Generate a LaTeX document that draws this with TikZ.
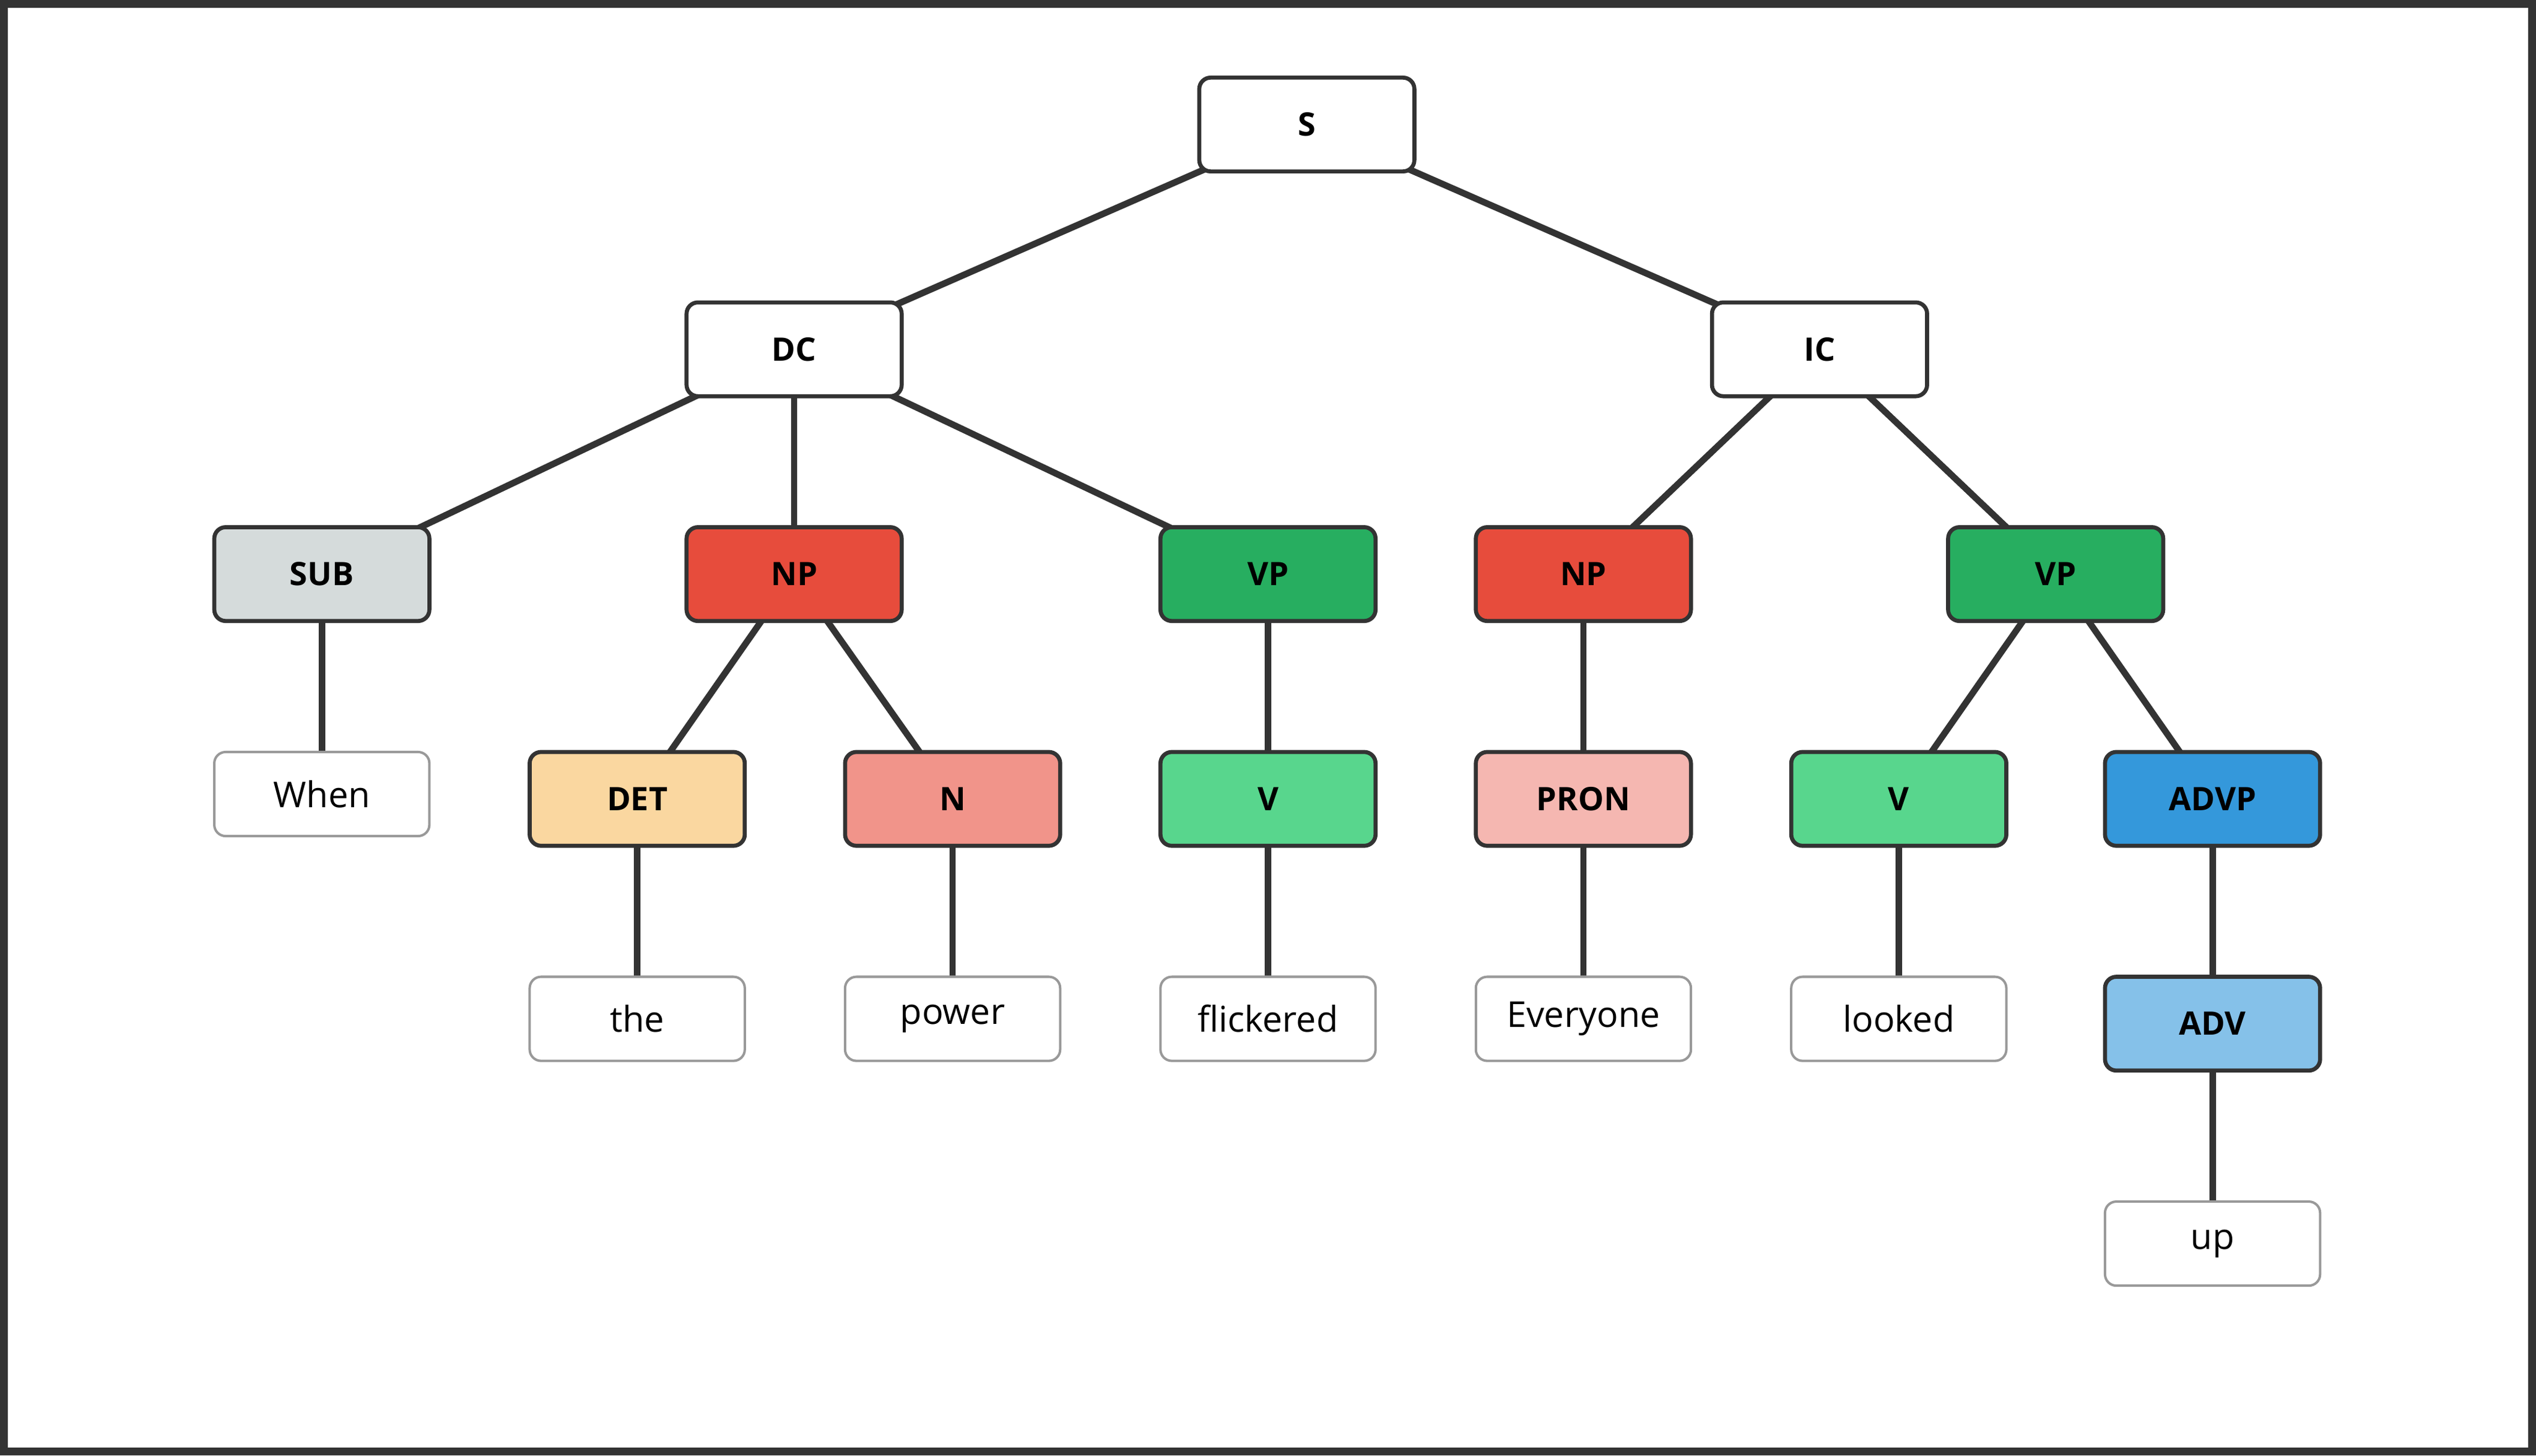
\documentclass[tikz,border=0pt]{standalone}
\usepackage{fontspec}
\setmainfont{Open Sans}
\begin{document}
\begin{tikzpicture}[x=1pt,y=-1pt,
 cat/.style={draw=black!80,line width=2.5pt,rounded corners=7pt,minimum width=133pt,minimum height=58pt,font=\fontsize{20}{24}\selectfont\bfseries,inner sep=0pt},
 leaf/.style={draw=black!40,line width=1.5pt,fill=white,rounded corners=7pt,minimum width=133pt,minimum height=52pt,font=\fontsize{22}{26}\selectfont,inner sep=0pt},
 ed/.style={draw=black!80,line width=4pt}]
\draw[line width=5pt,draw=black!80] (2.5,2.5) rectangle (1565.5,897.5);
\useasboundingbox (0,0) rectangle (1568,900);
\coordinate (cS) at (808,77);
\coordinate (cDC) at (491,216); \coordinate (cIC) at (1125,216);
\coordinate (cSUB) at (199,355); \coordinate (cNP) at (491,355); \coordinate (cVP) at (784,355);
\coordinate (cNPb) at (979,355); \coordinate (cVPb) at (1271,355);
\coordinate (cWhen) at (199,491);
\coordinate (cDET) at (394,494); \coordinate (cN) at (589,494); \coordinate (cV) at (784,494);
\coordinate (cPRON) at (979,494); \coordinate (cVb) at (1174,494); \coordinate (cADVP) at (1368,494);
\coordinate (cthe) at (394,630); \coordinate (cpower) at (589,630); \coordinate (cflick) at (784,630);
\coordinate (cEvery) at (979,630); \coordinate (clooked) at (1174,630);
\coordinate (cADV) at (1368,633); \coordinate (cup) at (1368,769);
\foreach \a/\b in {cS/cDC,cS/cIC,cDC/cSUB,cDC/cNP,cDC/cVP,cIC/cNPb,cIC/cVPb,cSUB/cWhen,cNP/cDET,cNP/cN,cVP/cV,cNPb/cPRON,cVPb/cVb,cVPb/cADVP,cDET/cthe,cN/cpower,cV/cflick,cPRON/cEvery,cVb/clooked,cADVP/cADV,cADV/cup}
  \draw[ed] (\a) -- (\b);
\node[cat,fill=white] (S) at (cS) {S};
\node[cat,fill=white] (DC) at (cDC) {DC};
\node[cat,fill=white] (IC) at (cIC) {IC};
\node[cat,fill={rgb,255:red,213;green,219;blue,219}] (SUB) at (cSUB) {SUB};
\node[cat,fill={rgb,255:red,231;green,76;blue,60}] (NP) at (cNP) {NP};
\node[cat,fill={rgb,255:red,39;green,174;blue,96}] (VP) at (cVP) {VP};
\node[cat,fill={rgb,255:red,231;green,76;blue,60}] (NPb) at (cNPb) {NP};
\node[cat,fill={rgb,255:red,39;green,174;blue,96}] (VPb) at (cVPb) {VP};
\node[cat,fill={rgb,255:red,250;green,215;blue,160}] (DET) at (cDET) {DET};
\node[cat,fill={rgb,255:red,241;green,148;blue,138}] (N) at (cN) {N};
\node[cat,fill={rgb,255:red,88;green,214;blue,141}] (V) at (cV) {V};
\node[cat,fill={rgb,255:red,245;green,183;blue,177}] (PRON) at (cPRON) {PRON};
\node[cat,fill={rgb,255:red,88;green,214;blue,141}] (Vb) at (cVb) {V};
\node[cat,fill={rgb,255:red,52;green,152;blue,219}] (ADVP) at (cADVP) {ADVP};
\node[cat,fill={rgb,255:red,133;green,193;blue,233}] (ADV) at (cADV) {ADV};
\node[leaf] (When) at (cWhen) {When};
\node[leaf] (the) at (cthe) {the};
\node[leaf] (power) at (cpower) {power};
\node[leaf] (flick) at (cflick) {flickered};
\node[leaf] (Every) at (cEvery) {Everyone};
\node[leaf] (looked) at (clooked) {looked};
\node[leaf] (up) at (cup) {up};
\end{tikzpicture}
\end{document}
